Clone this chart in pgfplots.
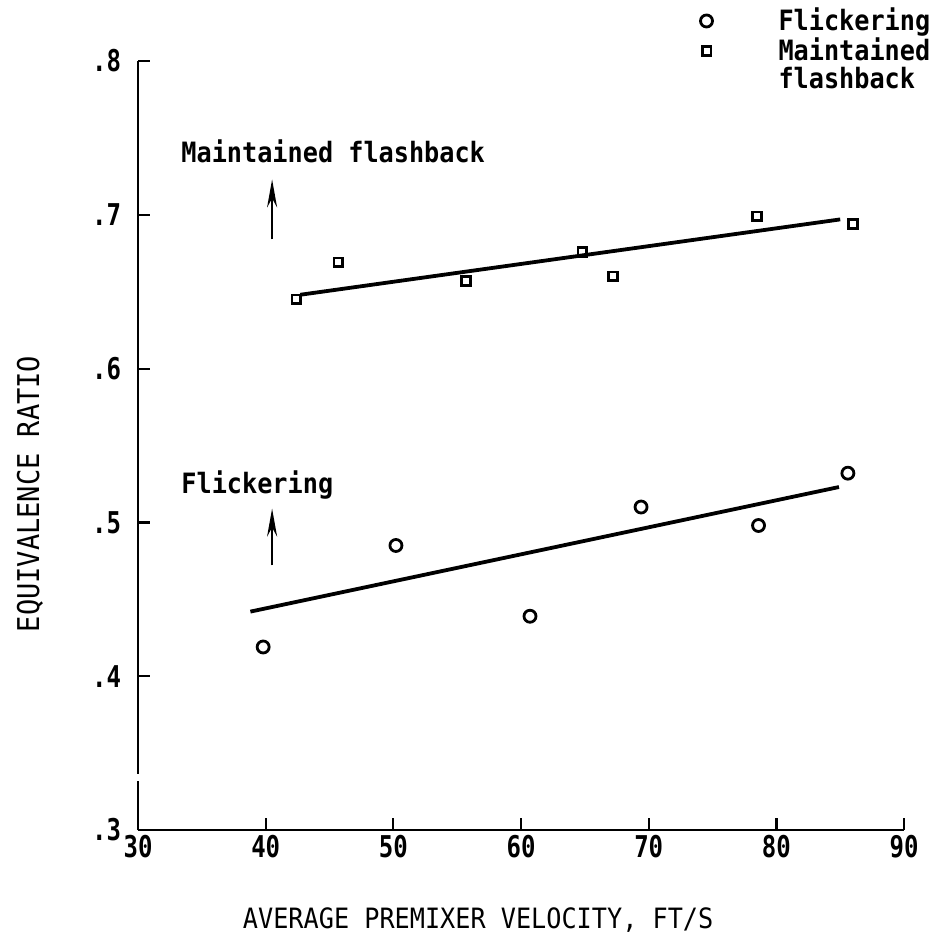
\documentclass[border=0pt]{standalone}
\usepackage{pgfplots}
\pgfplotsset{compat=1.18}
\usetikzlibrary{arrows.meta}
\usepackage{fontspec}
\setmainfont{DejaVu Sans Mono}[FakeStretch=0.9]
\newfontfamily\tickfont{DejaVu Sans Mono}[FakeStretch=0.8]

\begin{document}
\begin{tikzpicture}
\begin{axis}[
  scale only axis, width=383pt, height=384.5pt,
  xmin=30, xmax=90, ymin=0.3, ymax=0.8,
  axis lines*=left,
  axis line style={line width=1.4pt, -},
  xtick={30,40,50,60,70,80,90},
  ytick={0.3,0.4,0.5,0.6,0.7,0.8},
  yticklabels={.3,.4,.5,.6,.7,.8},
  tick align=inside, major tick length=6pt,
  tick style={line width=1.1pt, black},
  /pgf/number format/assume math mode=true,
  ticklabel style={font=\tickfont\bfseries\fontsize{15}{17}\selectfont},
  yticklabel style={xshift=-5pt},
  xticklabel style={yshift=1pt},
  xlabel={AVERAGE PREMIXER VELOCITY, FT/S},
  ylabel={EQUIVALENCE RATIO},
  xlabel style={font=\fontsize{14}{16}\selectfont, at={(rel axis cs:0.444,-0.117)}, anchor=center},
  ylabel style={font=\fontsize{15}{17}\selectfont, at={(rel axis cs:-0.141,0.437)}, anchor=center},
  clip=false,
  legend style={draw=none, fill=none, inner sep=0pt, column sep=31pt, row sep=-2pt,
    at={(rel axis cs:0.7193,1.0745)}, anchor=north west,
    font=\bfseries\fontsize{14}{16}\selectfont},
  legend cell align=left,
]
% Flickering data
\addplot[only marks, mark=o, mark size=3pt, line width=1.4pt, black]
  coordinates {(39.8,0.419) (50.2,0.485) (60.7,0.439) (69.4,0.510) (78.6,0.498) (85.6,0.532)};
% Maintained flashback data
\addplot[only marks, mark=square, mark size=2.2pt, line width=1.4pt, black]
  coordinates {(42.4,0.645) (45.7,0.669) (55.7,0.657) (64.8,0.676) (67.2,0.660) (78.5,0.699) (86.0,0.694)};
\addlegendimage{empty legend}
\legend{Flickering, Maintained, flashback}
% fitted lines
\addplot[black, line width=1.9pt, forget plot] coordinates {(42.7,0.648) (85.0,0.697)};
\addplot[black, line width=1.9pt, forget plot] coordinates {(38.8,0.442) (84.9,0.523)};
% arrows
\addplot[black, line width=1.3pt, -{Stealth[length=14pt,width=5pt]}, forget plot] coordinates {(40.5,0.684) (40.5,0.723)};
\addplot[black, line width=1.3pt, -{Stealth[length=14pt,width=5pt]}, forget plot] coordinates {(40.5,0.472) (40.5,0.509)};
% annotations
\node[anchor=base west, inner sep=0pt, font=\bfseries\fontsize{14}{16}\selectfont] at (axis cs:33.37,0.7337) {Maintained flashback};
\node[anchor=base west, inner sep=0pt, font=\bfseries\fontsize{14}{16}\selectfont] at (axis cs:33.37,0.5191) {Flickering};
% small break in y axis
\draw[white, line width=3pt] (axis cs:30,0.3316) -- (axis cs:30,0.3362);
% bounding box
\path (rel axis cs:-0.1802,-0.1508) rectangle (rel axis cs:1.0444,1.0793);
\end{axis}
\end{tikzpicture}
\end{document}
